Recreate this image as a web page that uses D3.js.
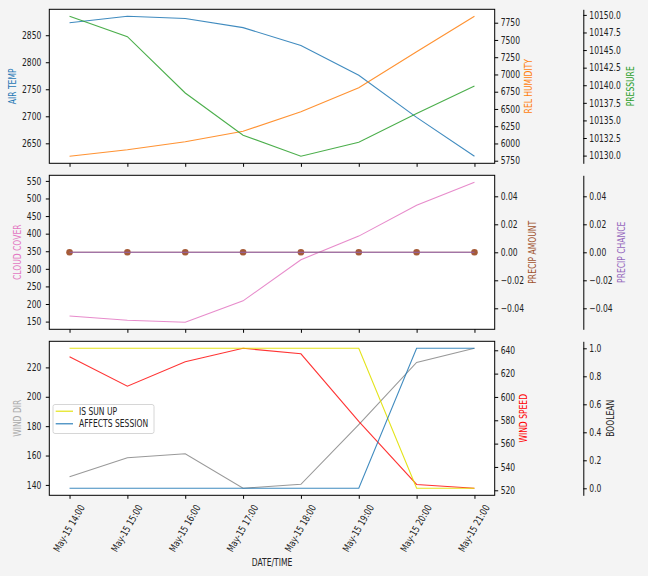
<!DOCTYPE html>
<html><head><meta charset="utf-8">
<script src="https://cdn.jsdelivr.net/npm/d3@7"></script>
<style>
body{margin:0;background:#f4f4f4}
svg{display:block}
text{font-family:"DejaVu Sans",sans-serif;font-size:10px;fill:#222}
</style>
</head><body>
<svg id="c" width="648" height="576"></svg>
<script>
// ---------- data ----------
const hours = [14, 15, 16, 17, 18, 19, 20, 21];
const timeLabels = ["May-15 14:00","May-15 15:00","May-15 16:00","May-15 17:00","May-15 18:00","May-15 19:00","May-15 20:00","May-15 21:00"];
const airTemp     = [2873, 2885, 2881, 2864, 2831, 2776, 2698, 2626];
const relHumidity = [5814, 5909, 6025, 6176, 6460, 6808, 7330, 7843];
const pressure    = [10149.8, 10146.9, 10138.9, 10132.9, 10129.9, 10131.9, 10136.0, 10139.9];
const cloudCover  = [166, 154, 148, 209, 326, 393, 481, 546];
const precipAmount= [0, 0, 0, 0, 0, 0, 0, 0];
const precipChance= [0, 0, 0, 0, 0, 0, 0, 0];
const windDir     = [145.5, 158.5, 161.2, 137.7, 140.4, 181, 223.4, 233];
const windSpeed   = [634.5, 609.2, 630.2, 641.7, 637, 579, 525, 521.7];
const isSunUp     = [1, 1, 1, 1, 1, 1, 0, 0];
const affectsSession = [0, 0, 0, 0, 0, 0, 1, 1];

const airTempTicks = [2650, 2700, 2750, 2800, 2850];
const humidityTicks = [5750, 6000, 6250, 6500, 6750, 7000, 7250, 7500, 7750];
const pressureTicks = [10130, 10132.5, 10135, 10137.5, 10140, 10142.5, 10145, 10147.5, 10150];
const cloudTicks = [150, 200, 250, 300, 350, 400, 450, 500, 550];
const precipTicks = [-0.04, -0.02, 0, 0.02, 0.04];
const windDirTicks = [140, 160, 180, 200, 220];
const windSpeedTicks = [520, 540, 560, 580, 600, 620, 640];
const boolTicks = [0, 0.2, 0.4, 0.6, 0.8, 1.0];

// ---------- layout ----------
const svg = d3.select("#c");
const L = 49.3, R = 494.7, R2 = 583.3;
const panels = [{top: 9.3, bottom: 163.3}, {top: 175.3, bottom: 329.3}, {top: 341.3, bottom: 495.3}];
const dates = hours.map(h => new Date(2024, 4, 15, h, 0, 0));
const x = d3.scaleTime()
  .domain([new Date(2024, 4, 15, 13, 39), new Date(2024, 4, 15, 21, 21)])
  .range([L, R]);

function padDomain(arr) {
  let mn = d3.min(arr), mx = d3.max(arr);
  if (mn === mx) { mn -= 0.05; mx += 0.05; }
  const m = (mx - mn) * 0.05;
  return [mn - m, mx + m];
}
function yScale(arr, p) { return d3.scaleLinear().domain(padDomain(arr)).range([p.bottom, p.top]); }

const C = {
  blue: "#1f77b4", orange: "#ff7f0e", green: "#2ca02c", pink: "#e377c2",
  brown: "#a0522d", purple: "#9467bd", grey: "#999999", red: "#ff0000",
  yellow: "#e0e000", session: "#1f77b4"
};

// panel backgrounds
panels.forEach(p => {
  svg.append("rect").attr("x", L).attr("y", p.top).attr("width", R - L).attr("height", p.bottom - p.top)
    .attr("fill", "white");
});

function drawLine(y, data, color, op) {
  svg.append("path").datum(data)
    .attr("d", d3.line().x((d, i) => x(dates[i])).y(d => y(d)))
    .attr("fill", "none").attr("stroke", color).attr("stroke-width", 1.1)
    .attr("stroke-opacity", op == null ? 0.85 : op);
}

function leftAxis(y, ticks, fmt) {
  const g = svg.append("g").attr("transform", `translate(${L},0)`)
    .call(d3.axisLeft(y).tickValues(ticks).tickFormat(fmt).tickSize(3.5).tickPadding(4.5));
  g.select(".domain").remove();
  return g;
}
function rightAxis(y, ticks, fmt, pos, keepDomain) {
  const g = svg.append("g").attr("transform", `translate(${pos},0)`)
    .call(d3.axisRight(y).tickValues(ticks).tickFormat(fmt).tickSize(3.5).tickSizeOuter(0).tickPadding(2.5));
  if (!keepDomain) g.select(".domain").remove();
  else g.select(".domain").attr("stroke-width", 1);
  return g;
}
function axisLabel(text, cx, cy, color) {
  svg.append("text").attr("transform", `translate(${cx},${cy}) rotate(-90)`)
    .attr("text-anchor", "middle").attr("dominant-baseline", "central")
    .style("fill", color).text(text);
}

// ---------- panel 1 ----------
const p1 = panels[0], c1 = (p1.top + p1.bottom) / 2;
const yAir = yScale(airTemp, p1), yHum = yScale(relHumidity, p1), yPres = yScale(pressure, p1);
drawLine(yAir, airTemp, C.blue);
drawLine(yHum, relHumidity, C.orange);
drawLine(yPres, pressure, C.green);
leftAxis(yAir, airTempTicks, d3.format("d"));
rightAxis(yHum, humidityTicks, d3.format("d"), R, false);
rightAxis(yPres, pressureTicks, d3.format(".1f"), R2, true);
axisLabel("AIR TEMP", 12, c1, C.blue);
axisLabel("REL HUMIDITY", 528, c1, C.orange);
axisLabel("PRESSURE", 630, c1, C.green);

// ---------- panel 2 ----------
const p2 = panels[1], c2 = (p2.top + p2.bottom) / 2;
const yCloud = yScale(cloudCover, p2), yPA = yScale(precipAmount, p2), yPC = yScale(precipChance, p2);
drawLine(yCloud, cloudCover, C.pink);
drawLine(yPA, precipAmount, C.brown);
svg.append("g").selectAll("circle").data(precipAmount).join("circle")
  .attr("cx", (d, i) => x(dates[i])).attr("cy", d => yPA(d)).attr("r", 3.3)
  .attr("fill", C.brown).attr("fill-opacity", 0.95);
drawLine(yPC, precipChance, C.purple, 0.9);
leftAxis(yCloud, cloudTicks, d3.format("d"));
rightAxis(yPA, precipTicks, d3.format(".2f"), R, false);
rightAxis(yPC, precipTicks, d3.format(".2f"), R2, true);
axisLabel("CLOUD COVER", 17, c2, C.pink);
axisLabel("PRECIP AMOUNT", 532, c2, C.brown);
axisLabel("PRECIP CHANCE", 621, c2, C.purple);

// ---------- panel 3 ----------
const p3 = panels[2], c3 = (p3.top + p3.bottom) / 2;
const yWD = yScale(windDir, p3), yWS = yScale(windSpeed, p3), yB = yScale([0, 1], p3);
drawLine(yWD, windDir, C.grey, 1);
drawLine(yWS, windSpeed, C.red, 0.8);
drawLine(yB, isSunUp, C.yellow, 0.9);
drawLine(yB, affectsSession, C.session, 0.85);
leftAxis(yWD, windDirTicks, d3.format("d"));
rightAxis(yWS, windSpeedTicks, d3.format("d"), R, false);
rightAxis(yB, boolTicks, d3.format(".1f"), R2, true);
axisLabel("WIND DIR", 17, c3, "#aaaaaa");
axisLabel("WIND SPEED", 523, c3, C.red);
axisLabel("BOOLEAN", 610, c3, "#222");

// frames + x ticks
panels.forEach((p, k) => {
  svg.append("rect").attr("x", L).attr("y", p.top).attr("width", R - L).attr("height", p.bottom - p.top)
    .attr("fill", "none").attr("stroke", "black").attr("stroke-width", 1);
  const g = svg.append("g").attr("transform", `translate(0,${p.bottom})`)
    .call(d3.axisBottom(x).tickValues(dates).tickSize(3.5).tickFormat((d, i) => k === 2 ? timeLabels[i] : ""));
  g.select(".domain").remove();
  if (k === 2) {
    g.selectAll(".tick text")
      .attr("y", null).attr("dy", null)
      .attr("text-anchor", "middle").attr("dominant-baseline", "central")
      .attr("transform", "translate(-1,33) rotate(-60)");
  }
});

svg.append("text").attr("x", 272).attr("y", 562).attr("text-anchor", "middle")
  .attr("dominant-baseline", "central").text("DATE/TIME");

// legend
const lg = svg.append("g");
lg.append("rect").attr("x", 53).attr("y", 404.5).attr("width", 101).attr("height", 29).attr("rx", 2)
  .attr("fill", "white").attr("fill-opacity", 0.8).attr("stroke", "#cccccc").attr("stroke-width", 0.8);
const legendItems = [["IS SUN UP", C.yellow], ["AFFECTS SESSION", C.session]];
legendItems.forEach(([t, c], i) => {
  const yy = 411.2 + i * 12.6;
  lg.append("line").attr("x1", 55.7).attr("x2", 73).attr("y1", yy).attr("y2", yy)
    .attr("stroke", c).attr("stroke-width", 1.1);
  lg.append("text").attr("x", 79).attr("y", yy).attr("dominant-baseline", "central").text(t);
});

// condensed look of text
svg.selectAll("text").each(function () {
  const l = this.getComputedTextLength();
  if (l > 0) {
    this.setAttribute("textLength", (l * 0.76).toFixed(2));
    this.setAttribute("lengthAdjust", "spacingAndGlyphs");
  }
});
</script>
</body></html>
